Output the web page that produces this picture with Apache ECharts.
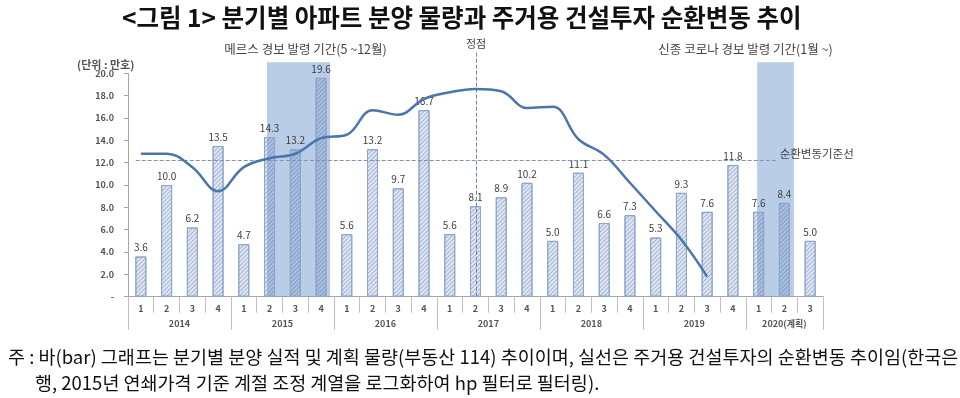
<!DOCTYPE html>
<html><head><meta charset="utf-8">
<script src="https://cdn.jsdelivr.net/npm/echarts@6/dist/echarts.min.js"></script>
<style>html,body{margin:0;padding:0;background:#fff}#c{width:960px;height:398px}</style>
</head><body><div id="c"></div>
<script>
const quarters = ['1','2','3','4','1','2','3','4','1','2','3','4','1','2','3','4','1','2','3','4','1','2','3','4','1','2','3'];
const years = ['2014','2015','2016','2017','2018','2019','2020(계획)'];
const supply = [3.6,10.0,6.2,13.5,4.7,14.3,13.2,19.6,5.6,13.2,9.7,16.7,5.6,8.1,8.9,10.2,5.0,11.1,6.6,7.3,5.3,9.3,7.6,11.8,7.6,8.4,5.0];
const cycle = [12.8,12.8,11.6,9.45,11.6,12.4,12.8,14.2,14.5,16.7,16.3,17.7,18.3,18.6,18.4,16.9,17.0,14.1,12.7,10.2,7.65,5.1,1.8,null,null,null,null];
const baseline = 12.2;
const yTicks = [0,2,4,6,8,10,12,14,16,18,20];
const mersSpan = [5.4, 7.85];
const covidSpan = [24.44, 25.87];
const peakPos = 13.52;

// year boundaries / centers derived from quarter labels
const yearBounds = [];
quarters.forEach((q,i)=>{ if(q==='1') yearBounds.push(i); });
yearBounds.push(quarters.length);
const yearCenters = years.map((y,i)=>(yearBounds[i]+yearBounds[i+1])/2);

const FONT = "'Noto Sans CJK KR','Noto Sans',sans-serif";
const chart = echarts.init(document.getElementById('c'));
const N = quarters.length;

chart.setOption({
  animation: false,
  textStyle: {fontFamily: FONT},
  title: [
    {text: '<그림 1> 분기별 아파트 분양 물량과 주거용 건설투자 순환변동 추이', left: 117, top: 0,
     textStyle: {fontSize: 24.5, fontWeight: 'bold', color: '#111', fontFamily: FONT}},
    {text: '(단위 : 만호)', left: 72, top: 54, textStyle: {fontSize: 11, fontWeight: 'bold', color: '#555', fontFamily: FONT}},
    {text: '주 : 바(bar) 그래프는 분기별 분양 실적 및 계획 물량(부동산 114) 추이이며, 실선은 주거용 건설투자의 순환변동 추이임(한국은', left: 3, top: 343,
     textStyle: {fontSize: 18.5, fontWeight: 'normal', color: '#111', fontFamily: FONT}},
    {text: '행, 2015년 연쇄가격 기준 계절 조정 계열을 로그화하여 hp 필터로 필터링).', left: 30, top: 369,
     textStyle: {fontSize: 18.5, fontWeight: 'normal', color: '#111', fontFamily: FONT}}
  ],
  grid: {left: 128, right: 137, top: 51, bottom: 101.3, containLabel: false},
  xAxis: [
    {type: 'category', data: quarters, position: 'bottom',
     axisLine: {show: true, lineStyle: {color: '#a6a6a6', width: 1}},
     axisTick: {show: true, interval: 0, length: 16, lineStyle: {color: '#bfbfbf'}},
     axisLabel: {interval: 0, fontSize: 9, color: '#555', margin: 7, fontWeight: 'bold'},
     splitLine: {show: false}},
    {type: 'value', min: 0, max: N, position: 'bottom',
     axisLine: {show: false},
     axisTick: {show: true, length: 33, customValues: yearBounds, lineStyle: {color: '#bfbfbf'}},
     axisLabel: {customValues: yearCenters, fontSize: 9, color: '#555', margin: 22, fontWeight: 'bold',
       formatter: v => { const i = yearCenters.findIndex(c => Math.abs(c - v) < 1e-6); return i >= 0 ? years[i] : ''; }},
     splitLine: {show: false}}
  ],
  yAxis: [
    {type: 'value', min: 0, max: 22,
     axisLine: {show: false},
     axisTick: {show: true, length: 4, customValues: yTicks, lineStyle: {color: '#a6a6a6'}},
     axisLabel: {customValues: yTicks, fontSize: 9, color: '#555', fontWeight: 'bold', margin: 14,
       formatter: v => v === 0 ? '-' : v.toFixed(1)},
     splitLine: {show: false}}
  ],
  series: [
    {type: 'scatter', xAxisIndex: 1, yAxisIndex: 0, data: [], z: 1, silent: true,
     markArea: {silent: true,
       itemStyle: {color: 'rgba(115,155,205,0.5)'},
       label: {position: 'top', fontSize: 12.5, color: '#444', distance: 7, fontFamily: FONT},
       data: [
         [{name: '메르스 경보 발령 기간(5 ~12월)', coord: [mersSpan[0], 0], label: {offset: [7, 0]}}, {coord: [mersSpan[1], 21]}],
         [{name: '신종 코로나 경보 발령 기간(1월 ~)', coord: [covidSpan[0], 0], label: {offset: [-30, 0]}}, {coord: [covidSpan[1], 21]}]
       ]},
     markLine: {silent: true, symbol: ['none', 'none'],
       data: [
         [{coord: [0, 0], lineStyle: {type: 'solid', color: '#a6a6a6', width: 1}, label: {show: false}}, {coord: [0, 20]}],
         [{coord: [0.3, baseline], name: '순환변동기준선', lineStyle: {type: 'dashed', color: '#7f93b5', width: 1},
           label: {show: true, position: 'end', formatter: '{b}', fontSize: 11.5, color: '#444', distance: 3, offset: [0, -7]}},
          {coord: [25.2, baseline]}],
         [{coord: [peakPos, 0], name: '정점', lineStyle: {type: 'dashed', color: '#6f84a8', width: 1},
           label: {show: true, position: 'end', formatter: '{b}', fontSize: 11, color: '#444', distance: 3}},
          {coord: [peakPos, 21.9]}]
       ]}
    },
    {type: 'bar', name: '분양 물량', data: supply, xAxisIndex: 0, yAxisIndex: 0, barWidth: 11, z: 2,
     itemStyle: {color: 'rgba(100,135,190,0.2)', borderColor: '#8ea7cb', borderWidth: 1,
       decal: {symbol: 'rect', symbolSize: 1, color: 'rgba(90,120,170,0.45)', dashArrayX: [1, 0], dashArrayY: [1, 2], rotation: -Math.PI / 4}},
     label: {show: true, position: 'top', distance: 4, fontSize: 10, color: '#404040', fontFamily: FONT,
       formatter: p => p.value.toFixed(1)}},
    {type: 'line', name: '순환변동', data: cycle, xAxisIndex: 0, yAxisIndex: 0, z: 5,
     smooth: 0.4, symbol: 'none', connectNulls: false,
     lineStyle: {color: '#4a76ad', width: 2.5}}
  ]
});
</script></body></html>
